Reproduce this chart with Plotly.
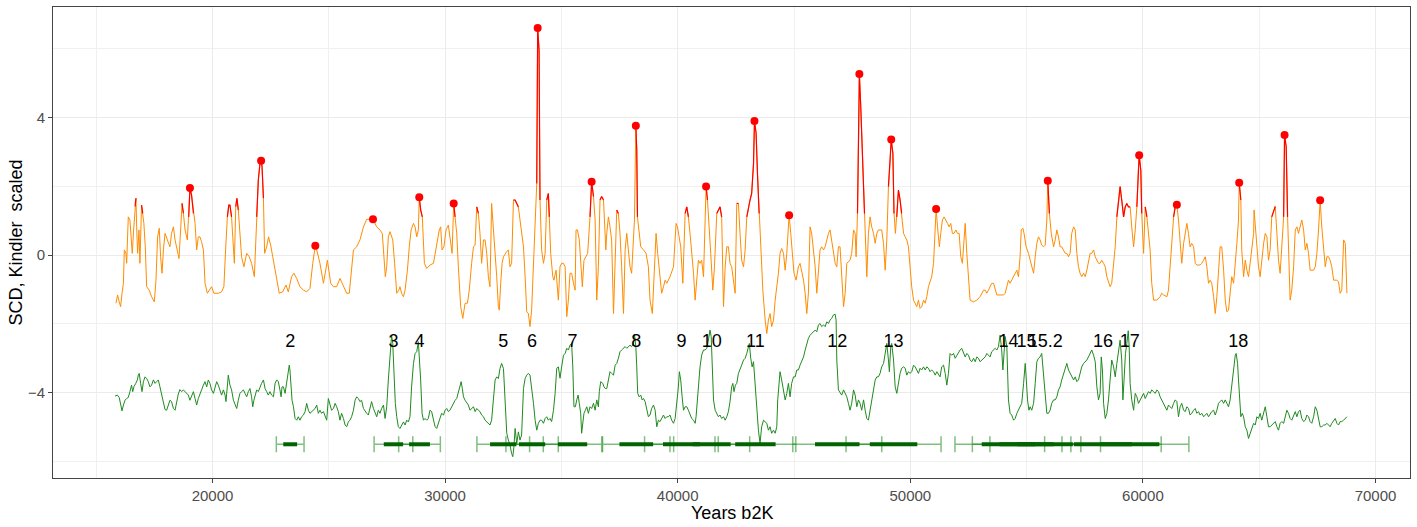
import plotly.graph_objects as go

# ---- SCD record (scaled) -------------------------------------------------
scd_years = [
    15850, 15920, 15990, 16050, 16110, 16170, 16210, 16280, 16310, 16380, 16450, 16500, 16550, 16610, 16670, 16710,
    16740, 16780, 16840, 16880, 16950, 17000, 17050, 17110, 17170, 17280, 17380, 17500, 17570, 17640, 17710, 17770,
    17830, 17890, 17960, 18060, 18170, 18240, 18320, 18390, 18490, 18560, 18630, 18690, 18750, 18820, 18920, 18980,
    19030, 19100, 19180, 19250, 19320, 19390, 19460, 19530, 19610, 19680, 19780, 19860, 19960, 20060, 20250, 20390,
    20490, 20570, 20640, 20700, 20750, 20820, 20900, 20940, 21000, 21050, 21110, 21180, 21250, 21350, 21470, 21580,
    21680, 21800, 21900, 21970, 22040, 22090, 22130, 22190, 22240, 22330, 22410, 22500, 22590, 22690, 22790, 22870,
    23020, 23160, 23260, 23400, 23500, 23620, 23760, 23910, 24050, 24190, 24310, 24380, 24420, 24480, 24620, 24770,
    24850, 24940, 25000, 25080, 25200, 25340, 25480, 25630, 25770, 25880, 26000, 26060, 26200, 26340, 26490, 26630,
    26900, 27060, 27200, 27300, 27350, 27430, 27490, 27560, 27630, 27750, 27830, 27920, 28010, 28060, 28130, 28210,
    28280, 28380, 28460, 28540, 28640, 28710, 28780, 28850, 28890, 28950, 29020, 29110, 29210, 29350, 29500, 29640,
    29750, 29810, 29870, 29950, 30040, 30140, 30240, 30300, 30370, 30430, 30500, 30570, 30670, 30760, 30860, 30960,
    31040, 31140, 31220, 31290, 31360, 31430, 31500, 31570, 31650, 31720, 31790, 31860, 31930, 32000, 32080, 32150,
    32220, 32290, 32330, 32390, 32450, 32510, 32580, 32650, 32720, 32790, 32860, 32940, 33010, 33080, 33150, 33220,
    33290, 33370, 33440, 33510, 33580, 33650, 33720, 33800, 33870, 33940, 33980, 34040, 34080, 34150, 34230, 34300,
    34370, 34440, 34480, 34540, 34630, 34680, 34770, 34870, 34940, 35010, 35090, 35160, 35230, 35300, 35370, 35440,
    35520, 35590, 35630, 35690, 35770, 35850, 35900, 35970, 36050, 36130, 36230, 36300, 36380, 36450, 36520, 36590,
    36660, 36730, 36810, 36850, 36910, 36950, 37020, 37090, 37160, 37240, 37310, 37380, 37450, 37520, 37590, 37670,
    37740, 37810, 37880, 37950, 38020, 38100, 38140, 38200, 38240, 38270, 38340, 38410, 38530, 38640, 38740, 38810,
    38910, 38980, 39070, 39140, 39240, 39310, 39390, 39460, 39530, 39670, 39820, 39930, 39990, 40070, 40130, 40220,
    40320, 40390, 40460, 40530, 40600, 40680, 40750, 40820, 40890, 40960, 41030, 41110, 41180, 41220, 41280, 41360,
    41420, 41510, 41580, 41680, 41750, 41820, 41890, 41970, 42040, 42110, 42180, 42250, 42320, 42400, 42470, 42540,
    42610, 42680, 42750, 42830, 42900, 42970, 43040, 43110, 43180, 43260, 43300, 43370, 43430, 43500, 43570, 43660,
    43760, 43830, 43900, 43970, 44040, 44120, 44190, 44260, 44330, 44400, 44470, 44550, 44620, 44690, 44760, 44790,
    44860, 44950, 45000, 45090, 45190, 45260, 45330, 45410, 45480, 45550, 45620, 45690, 45760, 45840, 45910, 45980,
    46050, 46120, 46190, 46270, 46340, 46410, 46480, 46550, 46620, 46700, 46770, 46840, 46910, 46980, 47050, 47130,
    47200, 47270, 47410, 47480, 47560, 47630, 47670, 47730, 47770, 47810, 47870, 47930, 47990, 48030, 48090, 48130,
    48200, 48270, 48340, 48420, 48490, 48560, 48630, 48700, 48770, 48850, 48920, 48990, 49060, 49130, 49180, 49250,
    49300, 49360, 49420, 49490, 49560, 49630, 49710, 49780, 49850, 49920, 49990, 50060, 50140, 50210, 50280, 50350,
    50420, 50490, 50570, 50640, 50710, 50780, 50850, 50920, 51000, 51070, 51110, 51170, 51250, 51310, 51380, 51450,
    51530, 51600, 51670, 51740, 51810, 51880, 51960, 52030, 52100, 52170, 52240, 52310, 52360, 52430, 52500, 52570,
    52720, 52860, 53000, 53070, 53150, 53220, 53290, 53360, 53430, 53500, 53580, 53650, 53720, 53860, 54010, 54080,
    54150, 54220, 54290, 54360, 54440, 54510, 54580, 54650, 54720, 54770, 54840, 54890, 54980, 55080, 55150, 55220,
    55300, 55370, 55440, 55510, 55580, 55650, 55730, 55800, 55870, 55910, 55980, 56060, 56160, 56230, 56300, 56370,
    56440, 56510, 56590, 56660, 56730, 56800, 56870, 56940, 57020, 57090, 57160, 57230, 57300, 57370, 57450, 57520,
    57590, 57660, 57730, 57800, 57880, 57950, 58020, 58090, 58160, 58230, 58310, 58380, 58450, 58520, 58590, 58660,
    58740, 58810, 58880, 58950, 59020, 59090, 59170, 59240, 59310, 59380, 59450, 59520, 59600, 59670, 59740, 59810,
    59840, 59910, 59950, 60030, 60100, 60170, 60240, 60310, 60380, 60460, 60600, 60740, 60810, 60890, 61030, 61100,
    61170, 61240, 61320, 61390, 61460, 61530, 61600, 61670, 61750, 61820, 61890, 61960, 62030, 62100, 62180, 62250,
    62320, 62460, 62530, 62610, 62680, 62750, 62820, 62890, 62960, 63040, 63110, 63180, 63250, 63320, 63390, 63470,
    63540, 63610, 63680, 63750, 63820, 63900, 63970, 64040, 64110, 64140, 64210, 64250, 64330, 64400, 64470, 64540,
    64610, 64680, 64760, 64780, 64840, 64900, 64970, 65040, 65110, 65190, 65260, 65330, 65400, 65470, 65540, 65620,
    65690, 65760, 65830, 65900, 65970, 66050, 66090, 66160, 66220, 66280, 66330, 66400, 66480, 66550, 66620, 66690,
    66760, 66830, 66910, 66980, 67050, 67120, 67190, 67340, 67410, 67480, 67550, 67620, 67690, 67770, 67840, 67910,
    67980, 68050, 68120, 68200, 68270, 68340, 68410, 68480, 68550, 68630, 68700, 68770,
]
scd_values = [
    -1.40, -1.16, -1.36, -1.50, -1.11, -0.82, 0.15, 0.05, -0.24, 1.11, 1.02, 0.44, 0.05, 0.73, 1.41, 1.65,
    0.82, 0.05, 0.73, -0.24, 1.45, 1.21, 0.92, 0.24, -0.92, -1.02, -1.21, -1.36, -0.73, 0.53, 0.78, -0.05,
    -0.53, 0.15, 0.63, 0.44, 0.24, 0.63, 0.82, 0.44, 0.15, -0.10, 0.73, 1.50, 1.21, 0.73, 0.44, 1.11,
    1.95, 1.74, 1.21, 0.92, 0.15, 0.53, 0.53, 0.39, 0.15, -0.82, -1.11, -1.02, -0.92, -1.11, -1.11, -1.07,
    -0.92, 0.24, 1.11, 1.45, 1.45, 1.11, 0.05, -0.24, 1.41, 1.65, 1.31, 0.44, -0.05, -0.34, 0.05, -0.05,
    -0.24, -0.63, 1.11, 2.18, 2.66, 2.74, 2.57, 1.65, 0.05, 0.24, 0.53, 0.29, -0.05, -0.44, -0.82, -1.11,
    -1.07, -0.87, -1.07, -0.63, -0.53, -0.68, -0.92, -1.02, -1.07, -0.97, -0.24, 0.15, 0.27, 0.15, -0.24, -0.82,
    -0.44, -0.15, -0.44, -0.82, -0.92, -0.92, -0.68, -0.92, -1.11, -1.11, -0.34, 0.15, 0.24, 0.44, 0.82, 1.04,
    1.04, 0.82, 0.73, 0.63, 0.15, -0.63, -0.34, 0.53, 0.68, 0.44, -0.24, -1.11, -1.02, -0.92, -1.11, -1.21,
    -1.02, -0.44, 0.24, 0.73, 0.92, 0.82, 0.53, 0.73, 1.68, 1.31, 1.11, -0.24, -0.39, -0.29, -0.24, 0.24,
    0.73, 0.82, 0.15, 0.24, 0.73, 0.87, 0.24, 0.05, 1.50, 1.11, 0.63, -0.34, -1.50, -1.84, -1.40, -1.40,
    -1.02, -0.24, 0.24, 0.29, 1.40, 1.21, 0.63, -0.24, 0.44, 0.44, 0.05, -0.63, -0.92, 1.50, 0.82, 0.05,
    -0.63, -1.50, -1.60, -0.82, -0.24, -0.05, 0.05, 0.10, 0.15, -0.34, -0.24, 1.60, 1.60, 1.50, 1.40, 1.02,
    0.63, 0.24, -0.63, -1.65, -1.70, -2.08, -1.60, -0.34, 0.63, 2.08, 6.60, 5.96, 1.60, 0.15, -0.24, 0.05,
    1.60, 1.79, 1.11, 0.05, -0.63, -0.73, -0.44, -1.31, -0.34, -0.24, -0.24, -0.34, -1.79, -1.31, -0.53, -0.53,
    -0.82, -1.02, 0.73, 0.73, 0.44, -0.34, -0.92, -0.15, -0.05, 0.05, 1.11, 2.13, 1.70, 1.02, -1.31, -0.34,
    1.60, 1.70, 1.60, 1.02, 0.15, 0.63, 1.11, 0.82, 0.44, -1.70, -0.34, 1.31, 1.21, 0.63, -0.34, -1.70,
    0.15, 0.63, 0.15, -0.34, -0.53, 0.63, 1.02, 3.76, 3.05, 1.11, 0.63, 0.24, 0.15, 0.05, -0.34, -1.31,
    -1.70, -0.63, 0.63, 0.05, -0.53, -1.11, -0.92, -0.73, -0.82, -0.63, -0.34, 0.92, 0.82, 0.44, 0.24, -0.82,
    1.21, 1.40, 1.11, 0.63, 0.15, -0.53, -1.31, -0.73, -0.15, -0.24, -0.15, -0.63, 1.02, 1.99, 1.60, 0.82,
    0.05, -1.02, -0.34, 1.21, 1.31, 1.40, 1.11, -1.50, -0.34, 0.24, 0.24, -0.24, -0.34, -0.82, -1.11, 1.50,
    1.50, 0.63, -0.15, -0.34, 0.15, 1.11, 1.40, 1.60, 1.79, 2.66, 3.90, 3.54, 2.37, 1.21, 0.05, -1.02,
    -1.89, -2.28, -1.89, -1.70, -2.08, -1.89, -1.31, -0.92, -0.53, 0.05, 0.19, 0.05, -0.44, 0.05, 0.82, 1.16,
    0.63, -0.15, -0.53, -0.73, -0.34, -0.24, -0.44, -0.73, -1.11, -1.70, -1.11, 0.82, 0.63, 0.05, -0.34, -1.11,
    -0.34, 0.15, 0.24, 0.15, 0.24, 0.44, 0.63, 0.73, 0.44, 0.05, -0.24, -0.34, 0.24, 0.24, -0.63, -1.50,
    -1.11, -0.24, -0.15, 0.05, 0.73, 0.63, -0.05, 1.21, 3.15, 5.26, 4.31, 3.15, 1.60, 1.21, 0.05, -0.63,
    0.63, 1.11, 0.82, 0.63, 0.34, 0.63, 0.73, 0.73, 0.73, 0.34, -0.44, 0.44, 1.99, 2.66, 3.36, 2.96,
    1.21, 0.63, 1.11, 1.89, 1.60, 1.21, 0.63, 0.53, 0.44, 0.24, -0.34, -0.92, -1.31, -1.40, -1.50, -1.31,
    -1.55, -1.50, -1.31, -1.40, -1.21, -0.92, -0.73, -0.63, -0.24, 0.82, 1.34, 0.82, 0.24, 0.63, 1.02, 1.11,
    1.02, 0.92, 0.82, 0.92, 0.63, 0.63, 0.73, 0.63, 0.63, -0.05, -0.24, 0.63, 0.92, 0.05, -0.63, -1.31,
    -1.36, -1.31, -1.21, -1.11, -1.02, -1.02, -1.11, -1.02, -0.92, -0.82, -0.82, -1.02, -1.16, -1.16, -1.16, -1.11,
    -0.92, -0.73, -0.82, -0.73, -0.63, -0.53, -0.44, -0.63, -0.05, 0.73, 0.78, 0.63, 0.24, 0.05, -0.15, -0.34,
    -0.53, -0.05, 0.34, 0.53, 0.44, 0.29, 0.24, 0.29, 1.02, 2.16, 1.21, 0.63, 0.24, 0.44, 0.73, 0.53,
    0.24, 0.24, 0.15, 0.05, 0.05, -0.05, 0.05, 0.63, 0.82, 0.73, 0.05, -0.34, -0.53, -0.63, -0.53, -0.63,
    -0.44, -0.15, 0.05, 0.05, 0.15, -0.05, -0.15, -0.24, -0.24, -0.15, -0.24, -0.34, -0.63, -0.82, -0.92, -0.82,
    -0.34, 0.24, 1.11, 1.60, 1.99, 1.60, 1.11, 1.40, 1.50, 1.40, 1.40, 0.82, 0.24, 0.73, 1.40, 2.57,
    2.90, 2.47, 1.21, 0.05, 1.40, 1.11, 0.63, 0.15, -0.82, -1.31, -1.31, -1.21, -1.11, -1.16, -1.21, -1.02,
    -0.34, 0.34, 1.11, 1.41, 1.46, 1.02, 0.24, -0.24, 0.34, 0.63, 0.92, 0.63, 0.24, 0.34, 0.24, -0.24,
    -0.29, -0.29, -0.24, -0.15, -0.05, -0.34, -0.82, -0.73, -0.82, -1.21, -1.70, -1.21, -0.34, 0.24, 0.24, -0.44,
    -1.31, -1.65, -1.60, -1.11, -0.63, -0.82, -0.34, 0.34, 1.02, 2.10, 1.60, 0.15, -0.63, -0.15, -0.44, -0.63,
    -0.24, 0.24, 0.63, 1.31, 0.73, 0.24, -0.34, -0.63, -0.15, 0.34, 0.63, 0.53, -0.15, 0.15, 1.11, 1.31,
    1.41, 0.63, -0.15, -0.53, 0.15, 1.11, 3.49, 3.15, 1.11, -0.05, -1.31, -1.02, -0.34, 0.73, 0.82, 0.63,
    0.82, 1.02, 0.73, 0.15, 0.34, 0.05, -0.44, -0.44, -0.34, 0.05, 0.73, 1.59, 0.82, 0.15, -0.34, -0.05,
    -0.05, -0.15, -0.34, -0.73, -0.73, -0.73, -0.78, -1.11, -1.02, 0.44, 0.34, -1.11,
]

# Peaks of the SCD record marked with dots
peak_years = [19030, 22090, 24420, 26900, 28890, 30370, 33980, 36300, 38200, 41220, 43300,
              44790, 47810, 49180, 51110, 55910, 59840, 61460, 64140, 66090, 67620]

# Values above this level are drawn in red
scd_threshold = 1.1

# ---- Kindler record (scaled, shifted down) --------------------------------
kindler_years = [
    15810, 15910, 15990, 16050, 16110, 16170, 16240, 16310, 16380, 16450, 16520, 16570, 16620, 16700, 16770, 16810,
    16850, 16910, 16970, 17030, 17100, 17170, 17240, 17310, 17380, 17460, 17530, 17600, 17670, 17740, 17810, 17890,
    17960, 18030, 18100, 18170, 18240, 18320, 18390, 18460, 18530, 18600, 18670, 18750, 18820, 18890, 18960, 19030,
    19100, 19180, 19250, 19320, 19390, 19460, 19530, 19610, 19680, 19750, 19820, 19890, 19960, 20040, 20110, 20180,
    20250, 20320, 20390, 20470, 20540, 20580, 20640, 20680, 20750, 20820, 20900, 20970, 21040, 21110, 21180, 21250,
    21330, 21400, 21470, 21540, 21610, 21680, 21730, 21780, 21840, 21900, 21970, 22040, 22110, 22190, 22260, 22330,
    22400, 22470, 22540, 22620, 22690, 22760, 22830, 22900, 22950, 22990, 23050, 23120, 23190, 23260, 23300, 23330,
    23380, 23420, 23480, 23550, 23620, 23690, 23760, 23830, 23910, 23980, 24050, 24120, 24190, 24260, 24340, 24410,
    24480, 24550, 24620, 24690, 24770, 24840, 24910, 24980, 25050, 25120, 25200, 25270, 25340, 25410, 25480, 25550,
    25630, 25700, 25770, 25840, 25910, 25980, 26060, 26130, 26200, 26270, 26340, 26410, 26490, 26560, 26630, 26700,
    26770, 26840, 26920, 26990, 27060, 27130, 27200, 27270, 27350, 27420, 27490, 27560, 27630, 27700, 27750, 27800,
    27860, 27920, 27990, 28060, 28130, 28210, 28280, 28350, 28420, 28490, 28560, 28640, 28710, 28780, 28850, 28890,
    28950, 29010, 29070, 29140, 29210, 29280, 29350, 29420, 29500, 29570, 29640, 29710, 29780, 29850, 29930, 30000,
    30070, 30140, 30210, 30280, 30360, 30430, 30500, 30570, 30640, 30690, 30740, 30790, 30860, 30930, 31000, 31070,
    31140, 31220, 31290, 31360, 31430, 31500, 31570, 31650, 31720, 31790, 31860, 31930, 32000, 32080, 32150, 32220,
    32290, 32360, 32430, 32510, 32580, 32650, 32720, 32790, 32860, 32910, 32960, 33010, 33080, 33150, 33220, 33290,
    33370, 33440, 33510, 33580, 33650, 33720, 33800, 33870, 33940, 34010, 34080, 34150, 34230, 34300, 34370, 34440,
    34510, 34580, 34660, 34730, 34800, 34870, 34940, 35010, 35090, 35160, 35230, 35300, 35370, 35440, 35490, 35540,
    35600, 35660, 35720, 35770, 35830, 35870, 35920, 35970, 36030, 36090, 36160, 36230, 36300, 36380, 36450, 36520,
    36590, 36630, 36690, 36780, 36830, 36890, 36950, 37020, 37090, 37160, 37240, 37310, 37380, 37450, 37520, 37590,
    37670, 37740, 37810, 37880, 37950, 38020, 38100, 38140, 38200, 38240, 38280, 38340, 38410, 38470, 38530, 38600,
    38670, 38740, 38810, 38880, 38960, 39030, 39100, 39170, 39240, 39310, 39390, 39460, 39530, 39600, 39670, 39740,
    39820, 39890, 39960, 40030, 40070, 40130, 40190, 40250, 40320, 40390, 40460, 40530, 40600, 40680, 40750, 40790,
    40850, 40900, 40960, 41030, 41110, 41180, 41250, 41320, 41390, 41440, 41480, 41540, 41610, 41680, 41750, 41820,
    41890, 41970, 42040, 42110, 42180, 42250, 42320, 42370, 42420, 42480, 42540, 42610, 42680, 42750, 42830, 42900,
    42970, 43030, 43080, 43140, 43200, 43260, 43330, 43400, 43470, 43540, 43610, 43690, 43760, 43830, 43900, 43970,
    44040, 44120, 44190, 44260, 44300, 44360, 44400, 44470, 44550, 44620, 44690, 44760, 44830, 44900, 44980, 45050,
    45120, 45190, 45260, 45330, 45410, 45480, 45550, 45620, 45690, 45760, 45840, 45910, 45980, 46050, 46120, 46190,
    46270, 46340, 46410, 46480, 46550, 46620, 46700, 46770, 46810, 46840, 46910, 46980, 47050, 47130, 47200, 47270,
    47340, 47410, 47480, 47560, 47630, 47700, 47770, 47840, 47910, 47990, 48060, 48130, 48200, 48270, 48340, 48420,
    48490, 48560, 48630, 48700, 48770, 48850, 48920, 48990, 49060, 49100, 49160, 49200, 49280, 49350, 49420, 49490,
    49560, 49630, 49710, 49780, 49850, 49920, 49990, 50060, 50140, 50210, 50280, 50350, 50420, 50490, 50570, 50640,
    50710, 50780, 50850, 50920, 51000, 51070, 51140, 51210, 51280, 51350, 51430, 51500, 51570, 51640, 51710, 51780,
    51860, 51930, 52000, 52070, 52140, 52210, 52290, 52360, 52430, 52500, 52570, 52640, 52720, 52790, 52860, 52930,
    53000, 53070, 53150, 53220, 53290, 53360, 53430, 53500, 53580, 53650, 53720, 53790, 53860, 53930, 53980, 54030,
    54080, 54150, 54220, 54290, 54360, 54440, 54510, 54580, 54650, 54720, 54790, 54870, 54940, 54980, 55040, 55100,
    55150, 55220, 55300, 55370, 55440, 55510, 55580, 55650, 55730, 55800, 55870, 55940, 56010, 56080, 56160, 56230,
    56300, 56370, 56440, 56510, 56590, 56660, 56730, 56800, 56870, 56940, 57020, 57090, 57160, 57230, 57300, 57370,
    57450, 57520, 57590, 57660, 57730, 57800, 57880, 57950, 58020, 58090, 58160, 58210, 58260, 58310, 58380, 58450,
    58520, 58590, 58660, 58740, 58810, 58880, 58950, 59020, 59090, 59140, 59190, 59250, 59310, 59370, 59410, 59450,
    59520, 59600, 59670, 59740, 59810, 59880, 59950, 60030, 60100, 60170, 60240, 60310, 60380, 60460, 60530, 60600,
    60670, 60740, 60810, 60890, 60960, 61030, 61100, 61170, 61240, 61320, 61390, 61460, 61530, 61600, 61670, 61750,
    61820, 61890, 61960, 62030, 62100, 62180, 62250, 62320, 62390, 62460, 62530, 62610, 62680, 62750, 62820, 62890,
    62960, 63040, 63110, 63180, 63250, 63320, 63390, 63470, 63540, 63610, 63680, 63750, 63820, 63900, 63970, 64010,
    64070, 64110, 64150, 64210, 64270, 64330, 64400, 64470, 64540, 64610, 64680, 64760, 64830, 64900, 64970, 65040,
    65110, 65190, 65260, 65330, 65400, 65470, 65540, 65620, 65690, 65760, 65830, 65900, 65970, 66050, 66120, 66190,
    66260, 66330, 66400, 66480, 66550, 66620, 66690, 66760, 66830, 66910, 66980, 67050, 67120, 67190, 67260, 67340,
    67410, 67480, 67550, 67620, 67690, 67770, 67840, 67910, 67980, 68050, 68120, 68200, 68270, 68340, 68410, 68480,
    68550, 68630, 68700, 68770,
]
kindler_values = [
    -4.10, -4.07, -4.14, -4.31, -4.53, -4.36, -4.22, -4.17, -4.14, -3.97, -3.78, -3.97, -3.83, -3.73, -3.63, -3.49,
    -3.44, -3.73, -3.97, -3.68, -3.54, -3.59, -3.68, -3.83, -3.78, -3.63, -3.73, -3.68, -3.63, -3.83, -4.07, -4.31,
    -4.49, -4.51, -4.36, -4.22, -4.26, -4.46, -4.51, -4.26, -4.04, -3.91, -3.97, -3.92, -3.97, -4.04, -4.07, -4.22,
    -4.07, -3.97, -4.17, -4.36, -4.17, -4.07, -3.92, -3.78, -3.68, -3.83, -3.63, -3.73, -3.92, -4.02, -3.88, -3.68,
    -3.78, -3.97, -4.07, -3.92, -4.07, -4.26, -3.63, -3.49, -3.78, -3.92, -4.22, -4.36, -4.46, -4.22, -4.02, -3.97,
    -3.92, -4.02, -4.12, -3.97, -3.88, -4.12, -4.41, -4.22, -4.07, -3.92, -3.97, -3.83, -3.73, -3.63, -3.88, -3.97,
    -4.07, -3.97, -4.07, -4.12, -3.73, -3.63, -3.68, -3.92, -4.12, -3.83, -3.83, -4.02, -3.73, -3.39, -3.20, -3.34,
    -3.83, -4.22, -4.41, -4.75, -4.80, -4.70, -4.80, -4.70, -4.65, -4.55, -4.31, -4.51, -4.60, -4.55, -4.51, -4.46,
    -4.36, -4.60, -4.51, -4.60, -4.55, -4.70, -4.80, -4.17, -4.31, -4.51, -4.46, -4.31, -4.41, -4.55, -4.80, -4.60,
    -4.75, -4.94, -4.99, -4.85, -4.80, -4.70, -4.51, -4.22, -4.12, -4.17, -4.26, -4.22, -4.46, -4.55, -4.60, -4.65,
    -4.41, -4.26, -4.46, -4.60, -4.70, -4.51, -4.60, -4.46, -4.36, -4.75, -4.41, -3.63, -2.86, -2.33, -2.57, -3.63,
    -4.31, -4.70, -4.99, -5.04, -4.94, -4.85, -4.94, -4.80, -4.85, -4.70, -3.83, -3.15, -2.86, -2.81, -2.52, -2.86,
    -3.63, -4.60, -4.80, -4.75, -4.80, -4.75, -4.51, -4.55, -4.80, -4.99, -5.04, -4.89, -4.80, -4.60, -4.65, -4.51,
    -4.46, -4.55, -4.51, -4.41, -4.31, -4.22, -4.17, -3.97, -3.73, -3.68, -3.88, -4.12, -4.22, -4.31, -4.36, -4.51,
    -4.46, -4.41, -4.55, -4.46, -4.51, -4.55, -4.65, -4.70, -4.80, -4.85, -4.89, -4.94, -4.80, -4.22, -3.63, -3.54,
    -3.59, -3.30, -3.15, -3.30, -4.31, -5.18, -5.38, -5.52, -5.77, -5.86, -5.57, -5.04, -5.48, -5.14, -5.38, -5.23,
    -3.88, -3.59, -3.49, -3.44, -3.49, -3.83, -4.31, -4.80, -5.09, -4.89, -4.80, -4.80, -4.89, -4.75, -4.70, -4.80,
    -4.75, -4.84, -4.51, -4.02, -3.29, -3.25, -3.58, -3.25, -2.91, -2.86, -2.71, -2.76, -2.62, -2.57, -3.25, -4.41,
    -4.41, -4.21, -4.07, -4.31, -4.60, -5.18, -4.80, -4.60, -4.51, -4.41, -4.60, -4.41, -4.46, -4.31, -4.51, -4.21,
    -4.41, -3.97, -3.68, -3.73, -3.83, -3.88, -3.88, -3.63, -3.39, -3.44, -3.49, -3.20, -3.15, -3.00, -2.81, -2.76,
    -2.71, -2.66, -2.71, -2.66, -2.62, -2.66, -2.57, -2.30, -2.66, -3.25, -4.02, -4.12, -4.07, -4.21, -4.17, -4.26,
    -4.51, -4.70, -4.65, -4.46, -4.36, -4.51, -4.99, -4.80, -4.84, -4.75, -4.65, -4.75, -4.70, -4.70, -4.65, -4.80,
    -4.89, -4.75, -4.31, -3.83, -3.39, -3.63, -4.12, -4.51, -4.41, -4.41, -4.51, -4.65, -4.75, -4.80, -4.89, -4.70,
    -4.12, -3.63, -3.25, -2.91, -2.76, -2.76, -2.71, -2.47, -2.18, -2.37, -3.05, -4.21, -4.51, -4.60, -4.70, -4.65,
    -4.75, -4.70, -4.80, -4.70, -4.55, -4.26, -3.83, -3.73, -3.97, -3.78, -3.73, -3.44, -3.34, -3.20, -3.05, -3.00,
    -2.86, -2.66, -2.57, -3.00, -3.25, -3.10, -3.73, -4.51, -5.09, -5.47, -4.99, -4.80, -4.84, -4.89, -5.09, -4.99,
    -5.18, -5.09, -5.18, -4.99, -4.21, -3.54, -3.39, -3.63, -3.92, -4.21, -4.02, -3.73, -4.12, -3.73, -3.54, -3.54,
    -3.34, -3.34, -3.20, -3.10, -2.96, -2.76, -2.57, -2.42, -2.33, -2.28, -2.23, -2.18, -2.23, -2.03, -1.99, -2.08,
    -2.03, -2.08, -1.94, -1.99, -1.89, -1.84, -1.74, -1.72, -1.89, -3.05, -3.92, -4.02, -4.07, -3.92, -4.02, -4.12,
    -4.31, -4.51, -4.31, -3.92, -4.07, -4.41, -4.21, -4.31, -4.51, -4.21, -4.51, -4.75, -4.80, -4.51, -4.21, -3.92,
    -3.63, -3.54, -3.54, -3.44, -3.25, -3.15, -2.86, -2.57, -3.05, -3.39, -2.66, -2.57, -3.05, -3.83, -4.02, -3.73,
    -3.44, -3.29, -3.25, -3.29, -3.49, -3.39, -3.44, -3.39, -3.20, -3.25, -3.34, -3.44, -3.29, -3.34, -3.25, -3.34,
    -3.25, -3.29, -3.39, -3.34, -3.39, -3.49, -3.39, -3.49, -3.54, -3.25, -3.20, -3.44, -3.78, -3.44, -2.86, -2.91,
    -2.86, -3.00, -2.91, -2.81, -2.76, -2.71, -2.86, -2.96, -2.86, -2.91, -3.05, -3.10, -3.00, -3.10, -2.96, -3.00,
    -3.10, -3.05, -3.00, -2.96, -2.86, -2.91, -2.96, -2.81, -2.76, -2.71, -2.76, -2.66, -2.33, -2.76, -3.34, -2.96,
    -2.37, -2.66, -4.21, -4.60, -4.65, -4.80, -4.75, -4.60, -4.51, -4.41, -4.31, -3.73, -3.15, -3.54, -4.21, -4.51,
    -4.41, -4.51, -4.31, -3.73, -3.10, -3.00, -2.96, -2.86, -3.54, -4.21, -4.60, -4.60, -4.51, -4.31, -4.21, -4.21,
    -4.12, -3.92, -3.83, -3.63, -3.44, -3.25, -3.15, -3.34, -3.44, -3.49, -3.63, -3.54, -3.68, -3.63, -3.39, -3.25,
    -3.15, -3.10, -3.05, -2.96, -2.86, -2.76, -2.91, -3.10, -3.83, -4.21, -4.02, -2.96, -3.34, -4.31, -4.75, -4.60,
    -4.21, -3.63, -3.05, -3.25, -3.54, -3.15, -2.76, -2.47, -3.05, -4.21, -3.63, -2.86, -2.57, -2.20, -2.66, -3.73,
    -4.21, -4.51, -4.02, -4.12, -4.31, -4.21, -4.12, -4.02, -4.17, -4.07, -3.97, -4.02, -3.92, -3.97, -4.02, -3.92,
    -3.97, -4.12, -4.21, -4.36, -4.41, -4.51, -4.36, -4.41, -4.46, -4.31, -4.21, -4.26, -4.70, -4.41, -4.31, -4.51,
    -4.55, -4.41, -4.46, -4.65, -4.60, -4.51, -4.46, -4.60, -4.55, -4.65, -4.60, -4.70, -4.65, -4.60, -4.70, -4.60,
    -4.55, -4.51, -4.65, -4.51, -4.31, -4.26, -4.21, -4.31, -4.21, -4.31, -4.41, -4.21, -3.83, -3.25, -2.91, -2.86,
    -3.15, -3.63, -4.21, -4.70, -4.60, -4.70, -4.99, -5.09, -5.33, -5.18, -4.99, -4.89, -4.94, -4.70, -4.75, -4.60,
    -4.80, -4.55, -4.41, -4.70, -4.99, -4.99, -4.94, -4.89, -4.84, -4.99, -5.09, -4.89, -4.84, -4.89, -4.70, -4.51,
    -4.60, -4.75, -4.80, -4.65, -4.55, -4.70, -4.55, -4.51, -4.75, -4.84, -4.80, -4.65, -4.70, -4.84, -4.89, -4.70,
    -4.41, -4.51, -4.75, -4.99, -4.99, -4.94, -4.94, -4.89, -4.94, -4.99, -4.89, -4.80, -4.75, -4.89, -4.94, -4.84,
    -4.84, -4.80, -4.75, -4.70,
]

# ---- Greenland interstadial onsets (b2k) and max. counting error ---------
gi_labels = ["2", "3", "4", "5", "6", "7", "8", "9", "10", "11", "12", "13",
             "14", "15", "15.2", "16", "17", "18"]
gi_ages = [23340, 27780, 28900, 32500, 33740, 35480, 38220, 40160, 41460, 43340, 46860, 49280,
           54220, 55000, 55800, 58280, 59440, 64100]
gi_mce = [298, 416, 448, 566, 563, 629, 725, 792, 817, 869, 956, 1021,
          1150, 1166, 1189, 1253, 1268, None]

label_level = -2.55
bar_level = -5.5

FONT = "Arial, Liberation Sans, sans-serif"

fig = go.Figure()

# Kindler curve
fig.add_trace(go.Scatter(x=kindler_years, y=kindler_values, mode="lines",
                         line=dict(color="#1f8a1f", width=1), hoverinfo="skip"))

# SCD curve, with the part above the threshold highlighted
fig.add_trace(go.Scatter(x=scd_years, y=scd_values, mode="lines",
                         line=dict(color="#ff8c00", width=1), hoverinfo="skip"))
red_values = [v if v > scd_threshold else None for v in scd_values]
fig.add_trace(go.Scatter(x=scd_years, y=red_values, mode="lines", connectgaps=False,
                         line=dict(color="#ff0000", width=1.2), hoverinfo="skip"))

# Dots at the SCD peaks
peak_values = [scd_values[scd_years.index(yr)] for yr in peak_years]
fig.add_trace(go.Scatter(x=peak_years, y=peak_values, mode="markers",
                         marker=dict(color="#ff0000", size=8), hoverinfo="skip"))

# Age uncertainty of the interstadial onsets: 2 x MCE (thin, capped), 1 x MCE (thick)
bar_ages = [a for a, m in zip(gi_ages, gi_mce) if m is not None]
bar_mce = [m for m in gi_mce if m is not None]
fig.add_trace(go.Scatter(
    x=bar_ages, y=[bar_level] * len(bar_ages), mode="markers",
    marker=dict(size=1, color="rgba(0,0,0,0)"),
    error_x=dict(type="data", array=[2 * m for m in bar_mce], symmetric=True,
                 color="rgba(0,128,0,0.5)", thickness=1.5, width=8),
    hoverinfo="skip"))
thick_x, thick_y = [], []
for a, m in zip(bar_ages, bar_mce):
    thick_x += [a - m, a + m, None]
    thick_y += [bar_level, bar_level, None]
fig.add_trace(go.Scatter(x=thick_x, y=thick_y, mode="lines",
                         line=dict(color="#006400", width=4), hoverinfo="skip"))

# Interstadial numbers
fig.add_trace(go.Scatter(x=gi_ages, y=[label_level] * len(gi_ages), mode="text",
                         text=gi_labels, textposition="middle center",
                         textfont=dict(family=FONT, size=18, color="black"),
                         hoverinfo="skip"))

axis_common = dict(
    showline=True, mirror=True, linecolor="#444444", linewidth=1,
    ticks="outside", ticklen=4, tickcolor="#444444", tickwidth=1,
    tickfont=dict(family=FONT, size=15, color="#4d4d4d"),
    showgrid=True, gridcolor="#ebebeb", gridwidth=1, zeroline=False,
)

fig.update_layout(
    width=1417, height=527,
    margin=dict(l=53, r=7, t=7, b=49),
    paper_bgcolor="white", plot_bgcolor="white",
    showlegend=False,
    xaxis=dict(range=[13143, 71483], tick0=0, dtick=10000, tickformat="d",
               minor=dict(tick0=0, dtick=5000, showgrid=True, gridcolor="#f0f0f0", gridwidth=1),
               **axis_common),
    yaxis=dict(range=[-6.48, 7.21], tick0=0, dtick=4,
               minor=dict(tick0=0, dtick=2, showgrid=True, gridcolor="#f0f0f0", gridwidth=1),
               **axis_common),
    annotations=[
        dict(text="Years b2K", x=0.5, y=-0.074, xref="paper", yref="paper",
             xanchor="center", yanchor="middle", showarrow=False,
             font=dict(family=FONT, size=18, color="black")),
        dict(text="SCD, Kindler\u00a0 scaled", x=-0.028, y=0.5, xref="paper", yref="paper",
             xanchor="center", yanchor="middle", showarrow=False, textangle=-90,
             font=dict(family=FONT, size=18, color="black")),
    ],
)

fig.write_html("out.html")
